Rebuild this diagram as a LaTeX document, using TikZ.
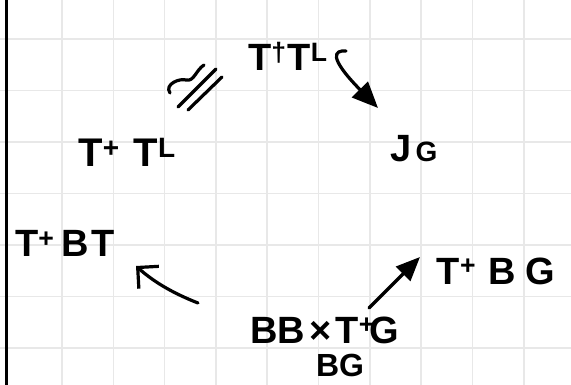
\documentclass[tikz,border=0pt]{standalone}
\usepackage{fontspec}
\setmainfont{Liberation Sans}
\usetikzlibrary{arrows.meta}
\definecolor{gridc}{HTML}{E8E8E8}
\begin{document}
\begin{tikzpicture}[x=1pt,y=-1pt,
  lbl/.style={font=\fontsize{38}{42}\selectfont\bfseries, inner sep=0pt, anchor=base},
  ink/.style={line width=3.2pt, line cap=round, line join=round},
]
\useasboundingbox (0,0) rectangle (571,385);
\fill[white] (0,0) rectangle (571,385);
% grid
\foreach \x in {62,113.3,...,575} \draw[gridc, line width=1.6pt] (\x,0) -- (\x,385);
\foreach \y in {39,90.5,...,390} \draw[gridc, line width=1.6pt] (0,\y) -- (571,\y);
\draw[line width=3pt] (6.5,0) -- (6.5,385);

% labels
\node[lbl] (ttop) at (288,71) {T\textsuperscript{†}\hspace{1pt}T\textsuperscript{L}};
\node[lbl, font=\fontsize{40}{44}\selectfont\bfseries] (tleft) at (127,167) {T\textsuperscript{+}\hspace{14pt}T\textsuperscript{L}};
\node[lbl] (jg) at (414,162) {J\hspace{4pt}{\fontsize{28}{30}\selectfont G}};
\node[lbl] (tbt) at (65,257) {T\textsuperscript{+}\hspace{7pt}B\hspace{3pt}T};
\node[lbl] (tbg) at (496,284) {T\textsuperscript{+}\hspace{12pt}B\hspace{10pt}G};
\node[lbl] (bbtg) at (325,343) {BB\hspace{4pt}×\hspace{4pt}T\textsuperscript{+}\hspace{-5pt}G};
\node[lbl, font=\fontsize{32}{34}\selectfont\bfseries] (bg) at (340,376) {BG};

% congruence sign (rotated)
\draw[ink] (178,107) -- (216,69);
\draw[ink] (188,110) -- (222,77);
\draw[ink] (170,93) .. controls (164,84) and (180,78) .. (186,80)
  .. controls (194,82) and (196,70) .. (204,65);

% arrows
\coordinate (a1s) at (346,51);
\coordinate (a1e) at (378,108);
\draw[ink, -{Triangle[length=26pt,width=22pt]}] (a1s) .. controls (334,50) and (328,57) .. (a1e);

\coordinate (a2s) at (198,303);
\coordinate (a2e) at (136,266);
\draw[ink, -{Straight Barb[length=15pt,width=30pt]}] (a2s) .. controls (175,294) and (155,283) .. (a2e);

\coordinate (a3s) at (369,308);
\coordinate (a3e) at (420,257);
\draw[ink, -{Triangle[length=24pt,width=20pt]}] (a3s) -- (a3e);
\end{tikzpicture}
\end{document}
